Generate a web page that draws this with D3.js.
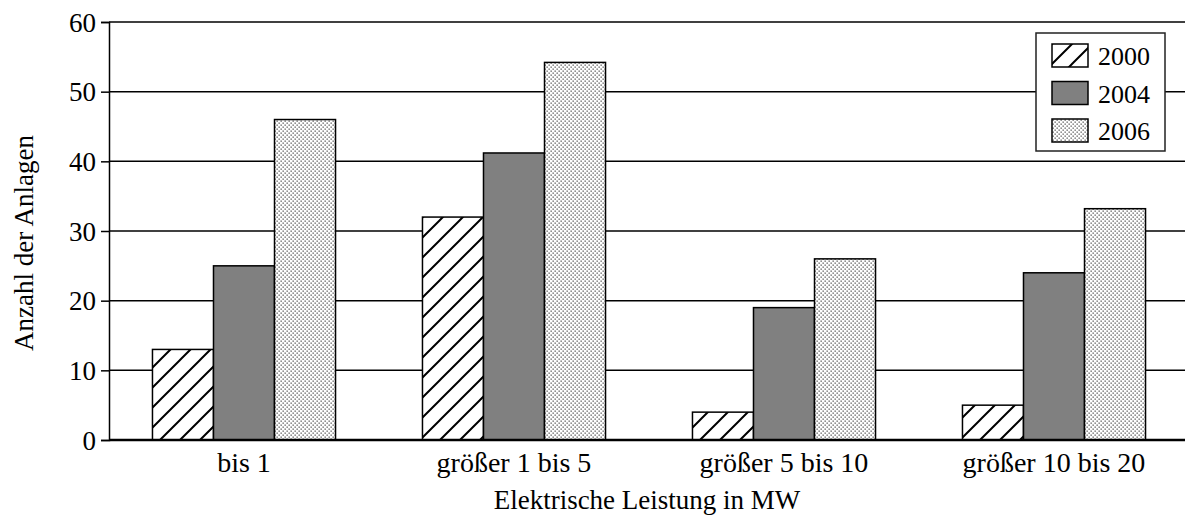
<!DOCTYPE html>
<html>
<head>
<meta charset="utf-8">
<script src="https://cdn.jsdelivr.net/npm/d3@7"></script>
<style>
  body { margin: 0; background: #fff; }
  text { font-family: "Liberation Serif", "DejaVu Serif", serif; fill: #000; }
</style>
</head>
<body>
<div id="chart"></div>
<script>
// data
var categories = ["bis 1", "größer 1 bis 5", "größer 5 bis 10", "größer 10 bis 20"];
var years = ["2000", "2004", "2006"];
var values2000 = [13, 32, 4, 5];
var values2004 = [25, 41.2, 19, 24];
var values2006 = [46, 54.2, 26, 33.2];
var yTicks = [0, 10, 20, 30, 40, 50, 60];

var w = 1185, h = 515;
var mLeft = 109, mRight = 1189, mTop = 22, mBottom = 440;

var svg = d3.select("#chart").append("svg")
  .attr("width", w)
  .attr("height", h);

var defs = svg.append("defs");
// hatched pattern for 2000
var hatch = defs.append("pattern")
  .attr("id", "hatch")
  .attr("patternUnits", "userSpaceOnUse")
  .attr("width", 20).attr("height", 20);
hatch.append("rect").attr("width", 20).attr("height", 20).attr("fill", "#fff");
hatch.append("path")
  .attr("d", "M-5,25 L25,-5 M-5,5 L5,-5 M15,25 L25,15")
  .attr("stroke", "#000").attr("stroke-width", 2);
// dotted pattern for 2006
var dots = defs.append("pattern")
  .attr("id", "dots")
  .attr("patternUnits", "userSpaceOnUse")
  .attr("width", 4).attr("height", 4);
dots.append("rect").attr("width", 4).attr("height", 4).attr("fill", "#fff");
dots.append("rect").attr("x", 0.5).attr("y", 0.5).attr("width", 1.3).attr("height", 1.3).attr("fill", "#555");
dots.append("rect").attr("x", 2.5).attr("y", 2.5).attr("width", 1.3).attr("height", 1.3).attr("fill", "#555");

var fills = ["url(#hatch)", "#808080", "url(#dots)"];

var x = d3.scaleBand().domain(categories).range([mLeft, mRight])
  .paddingInner(0.322).paddingOuter(0.161);
var xs = d3.scaleBand().domain(years).range([0, x.bandwidth()]);
var y = d3.scaleLinear().domain([0, 60]).range([mBottom, mTop]);

// gridlines
svg.append("g").selectAll("line")
  .data(yTicks.filter(function(d) { return d > 0; }))
  .enter().append("line")
  .attr("x1", mLeft).attr("x2", w)
  .attr("y1", function(d) { return y(d); })
  .attr("y2", function(d) { return y(d); })
  .attr("stroke", "#000").attr("stroke-width", 1.5);

// y axis
var yAxis = svg.append("g")
  .attr("transform", "translate(" + mLeft + ",0)")
  .call(d3.axisLeft(y).tickValues(yTicks).tickSize(8).tickPadding(5));
yAxis.select(".domain").attr("stroke", "#000").attr("stroke-width", 1.5);
yAxis.selectAll(".tick line").attr("stroke", "#000").attr("stroke-width", 1.5);
yAxis.selectAll("text").style("font-size", "27px").style("font-family", "Liberation Serif").attr("dy", "0.34em");

// bars
var series = [values2000, values2004, values2006];
var rows = [];
categories.forEach(function(c, i) {
  years.forEach(function(yr, j) {
    rows.push({cat: c, year: yr, j: j, v: series[j][i]});
  });
});

svg.append("g").selectAll("rect")
  .data(rows)
  .enter().append("rect")
  .attr("x", function(d) { return x(d.cat) + xs(d.year); })
  .attr("y", function(d) { return y(d.v); })
  .attr("width", xs.bandwidth())
  .attr("height", function(d) { return mBottom - y(d.v); })
  .attr("fill", function(d) { return fills[d.j]; })
  .attr("stroke", "#000").attr("stroke-width", 1.5);

// x axis baseline
svg.append("line")
  .attr("x1", mLeft).attr("x2", w)
  .attr("y1", mBottom).attr("y2", mBottom)
  .attr("stroke", "#000").attr("stroke-width", 2.5);

// x labels
svg.append("g").selectAll("text")
  .data(categories)
  .enter().append("text")
  .attr("x", function(d) { return x(d) + x.bandwidth() / 2; })
  .attr("y", 472)
  .attr("text-anchor", "middle")
  .style("font-size", "28px")
  .text(function(d) { return d; });

svg.append("text")
  .attr("x", (mLeft + w) / 2)
  .attr("y", 509)
  .attr("text-anchor", "middle")
  .style("font-size", "27px")
  .text("Elektrische Leistung in MW");

svg.append("text")
  .attr("transform", "translate(33,243) rotate(-90)")
  .attr("text-anchor", "middle")
  .style("font-size", "27px")
  .text("Anzahl der Anlagen");

// legend
var lg = svg.append("g");
lg.append("rect")
  .attr("x", 1036).attr("y", 33).attr("width", 129).attr("height", 118)
  .attr("fill", "#fff").attr("stroke", "#222").attr("stroke-width", 1.5);
var items = lg.selectAll("g.item")
  .data(years)
  .enter().append("g")
  .attr("transform", function(d, i) { return "translate(1052," + (44 + i * 37.5) + ")"; });
items.append("rect")
  .attr("width", 36).attr("height", 23)
  .attr("fill", function(d, i) { return fills[i]; })
  .attr("stroke", "#000").attr("stroke-width", 1.5);
items.append("text")
  .attr("x", 46).attr("y", 21)
  .style("font-size", "26px")
  .text(function(d) { return d; });
</script>
</body>
</html>
